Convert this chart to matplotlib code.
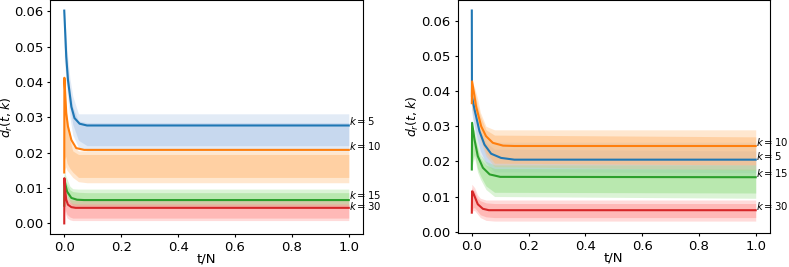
import matplotlib
matplotlib.use('Agg')
from matplotlib import pyplot as plt

# label names
k_names = ['$k=5$', '$k=10$', '$k=15$', '$k=30$']
line_colors = ['#1f77b4', '#ff7f0e', '#2ca02c', '#d62728']
cloud_colors = ['#aec7e8', '#ffbb78', '#98df8a', '#ff9896']

# ---- left panel: fitted curves (t/N, d_r)
left_t5 = [0, 0.007, 0.013, 0.025, 0.036, 0.054, 0.08, 1.0]
left_v5 = [0.0602, 0.0472, 0.0406, 0.0330, 0.0298, 0.0282, 0.0277, 0.0277]
left_t10 = [0, 0.0005, 0.007, 0.013, 0.025, 0.042, 0.07, 1.0]
left_v10 = [0.0144, 0.0412, 0.0312, 0.0274, 0.0236, 0.0213, 0.0208, 0.0208]
left_t15 = [0, 0.0005, 0.004, 0.01, 0.025, 0.045, 0.07, 1.0]
left_v15 = [0.0050, 0.0125, 0.0110, 0.0090, 0.0072, 0.0067, 0.0066, 0.0066]
left_t30 = [0, 0.0005, 0.004, 0.007, 0.013, 0.025, 0.04, 1.0]
left_v30 = [0.0, 0.0128, 0.0088, 0.0067, 0.0053, 0.0046, 0.0044, 0.0044]

# ---- right panel: fitted curves
right_t5 = [0, 0.0005, 0.0095, 0.027, 0.0445, 0.068, 0.103, 0.15, 1.0]
right_v5 = [0.0630, 0.0385, 0.0348, 0.0286, 0.0248, 0.0222, 0.0210, 0.0205, 0.0205]
right_t10 = [0, 0.001, 0.0095, 0.015, 0.033, 0.05, 0.074, 0.11, 0.15, 1.0]
right_v10 = [0.0366, 0.0428, 0.0385, 0.0357, 0.0300, 0.0272, 0.0253, 0.0245, 0.0244, 0.0244]
right_t15 = [0, 0.001, 0.0095, 0.021, 0.039, 0.063, 0.1, 1.0]
right_v15 = [0.0177, 0.0310, 0.0262, 0.0215, 0.0182, 0.0163, 0.0156, 0.0155]
right_t30 = [0, 0.001, 0.004, 0.021, 0.039, 0.06, 1.0]
right_v30 = [0.0054, 0.0115, 0.0112, 0.0078, 0.0065, 0.0061, 0.0061]

# where the k labels sit (baseline) in each panel
left_label_y = [0.0277, 0.0208, 0.0068, 0.0038]
right_label_y = [0.0205, 0.0244, 0.0155, 0.0061]

# ---- scatter clouds, given as the extent of the dots (outer) and the dense part (inner)
cloud_t = [0, 0.005, 0.01, 0.02, 0.03, 0.05, 0.08, 1.0]

left_lo_out5 = [0.046, 0.042, 0.037, 0.030, 0.025, 0.0215, 0.0205, 0.0205]
left_lo_in5 = [0.050, 0.046, 0.040, 0.033, 0.028, 0.0235, 0.0220, 0.0220]
left_hi_in5 = [0.059, 0.052, 0.046, 0.038, 0.033, 0.0290, 0.0285, 0.0285]
left_hi_out5 = [0.061, 0.055, 0.049, 0.041, 0.036, 0.0310, 0.0310, 0.0310]

left_lo_out10 = [0.015, 0.016, 0.015, 0.014, 0.013, 0.0118, 0.0115, 0.0115]
left_lo_in10 = [0.018, 0.019, 0.017, 0.0155, 0.0145, 0.0130, 0.0130, 0.0130]
left_hi_in10 = [0.038, 0.031, 0.027, 0.0235, 0.0205, 0.0195, 0.0195, 0.0195]
left_hi_out10 = [0.041, 0.034, 0.030, 0.0255, 0.0220, 0.0205, 0.0205, 0.0205]

left_lo_out15 = [0.0090, 0.0080, 0.0070, 0.0055, 0.0048, 0.0045, 0.0045, 0.0045]
left_lo_in15 = [0.0100, 0.0090, 0.0078, 0.0062, 0.0052, 0.0050, 0.0050, 0.0050]
left_hi_in15 = [0.0140, 0.0120, 0.0110, 0.0095, 0.0090, 0.0088, 0.0087, 0.0087]
left_hi_out15 = [0.0150, 0.0135, 0.0125, 0.0105, 0.0098, 0.0097, 0.0097, 0.0097]

left_lo_out30 = [0.0040, 0.0025, 0.0015, 0.0010, 0.0008, 0.0008, 0.0008, 0.0008]
left_lo_in30 = [0.0060, 0.0035, 0.0025, 0.0018, 0.0015, 0.0015, 0.0015, 0.0015]
left_hi_in30 = [0.0120, 0.0085, 0.0070, 0.0060, 0.0056, 0.0055, 0.0055, 0.0055]
left_hi_out30 = [0.0130, 0.0095, 0.0080, 0.0068, 0.0066, 0.0066, 0.0066, 0.0066]

right_lo_out5 = [0.034, 0.031, 0.029, 0.025, 0.022, 0.0185, 0.0160, 0.0155]
right_lo_in5 = [0.035, 0.032, 0.030, 0.026, 0.023, 0.0195, 0.0170, 0.0168]
right_hi_in5 = [0.039, 0.037, 0.036, 0.031, 0.028, 0.0255, 0.0235, 0.0230]
right_hi_out5 = [0.040, 0.038, 0.037, 0.032, 0.029, 0.0265, 0.0255, 0.0255]

right_lo_out10 = [0.035, 0.034, 0.033, 0.029, 0.026, 0.0215, 0.0185, 0.0175]
right_lo_in10 = [0.036, 0.035, 0.034, 0.030, 0.027, 0.0225, 0.0195, 0.0190]
right_hi_in10 = [0.042, 0.041, 0.040, 0.036, 0.033, 0.0290, 0.0275, 0.0270]
right_hi_out10 = [0.043, 0.042, 0.041, 0.038, 0.034, 0.0300, 0.0290, 0.0290]

right_lo_out15 = [0.018, 0.020, 0.021, 0.017, 0.015, 0.0120, 0.0100, 0.0095]
right_lo_in15 = [0.019, 0.021, 0.022, 0.018, 0.016, 0.0130, 0.0112, 0.0110]
right_hi_in15 = [0.030, 0.028, 0.027, 0.024, 0.021, 0.0190, 0.0180, 0.0178]
right_hi_out15 = [0.031, 0.029, 0.029, 0.025, 0.022, 0.0200, 0.0190, 0.0190]

right_lo_out30 = [0.0055, 0.0060, 0.0060, 0.0050, 0.0040, 0.0032, 0.0030, 0.0030]
right_lo_in30 = [0.0060, 0.0068, 0.0068, 0.0058, 0.0048, 0.0042, 0.0040, 0.0040]
right_hi_in30 = [0.0125, 0.0120, 0.0115, 0.0095, 0.0088, 0.0082, 0.0080, 0.0080]
right_hi_out30 = [0.0135, 0.0130, 0.0125, 0.0105, 0.0095, 0.0090, 0.0090, 0.0090]

left_curves = [(left_t5, left_v5), (left_t10, left_v10), (left_t15, left_v15), (left_t30, left_v30)]
right_curves = [(right_t5, right_v5), (right_t10, right_v10), (right_t15, right_v15), (right_t30, right_v30)]
left_clouds = [(left_lo_out5, left_lo_in5, left_hi_in5, left_hi_out5),
               (left_lo_out10, left_lo_in10, left_hi_in10, left_hi_out10),
               (left_lo_out15, left_lo_in15, left_hi_in15, left_hi_out15),
               (left_lo_out30, left_lo_in30, left_hi_in30, left_hi_out30)]
right_clouds = [(right_lo_out5, right_lo_in5, right_hi_in5, right_hi_out5),
                (right_lo_out10, right_lo_in10, right_hi_in10, right_hi_out10),
                (right_lo_out15, right_lo_in15, right_hi_in15, right_hi_out15),
                (right_lo_out30, right_lo_in30, right_hi_in30, right_hi_out30)]


def draw_panel(ax, curves, clouds, label_y, ylim):
    for i in range(4):
        lo_out, lo_in, hi_in, hi_out = clouds[i]
        ax.fill_between(cloud_t, lo_out, hi_out, color=cloud_colors[i], alpha=0.35, lw=0, zorder=1)
        ax.fill_between(cloud_t, lo_in, hi_in, color=cloud_colors[i], alpha=0.5, lw=0, zorder=1)
    for i in range(4):
        t, v = curves[i]
        ax.plot(t, v, color=line_colors[i], lw=1.5, zorder=2)
        ax.text(t[-1], label_y[i], k_names[i], fontsize=7.3, va='baseline', ha='left')
    ax.set_xlim(-0.05, 1.05)
    ax.set_ylim(*ylim)
    ax.set_yticks([0, 0.01, 0.02, 0.03, 0.04, 0.05, 0.06])
    ax.set_xticks([0, 0.2, 0.4, 0.6, 0.8, 1.0])
    ax.tick_params(labelsize=9.5, length=2.5, pad=2.5)
    ax.set_xlabel('t/N', fontsize=9.5, labelpad=-1)
    ax.set_ylabel('$d_r(t, k)$', fontsize=9, labelpad=0.5)


fig = plt.figure(figsize=(7.89, 2.67), dpi=100)
ax1 = fig.add_axes([0.0634, 0.1236, 0.3967, 0.8764])
ax2 = fig.add_axes([0.580, 0.1273, 0.3958, 0.8727])

draw_panel(ax1, left_curves, left_clouds, left_label_y, (-0.003, 0.0632))
draw_panel(ax2, right_curves, right_clouds, right_label_y, (-0.0004, 0.066))

# left ylabel pushed in a bit so it stays inside the figure
ax1.yaxis.set_label_coords(-0.112, 0.5)

fig.savefig('out.png', dpi=100)
